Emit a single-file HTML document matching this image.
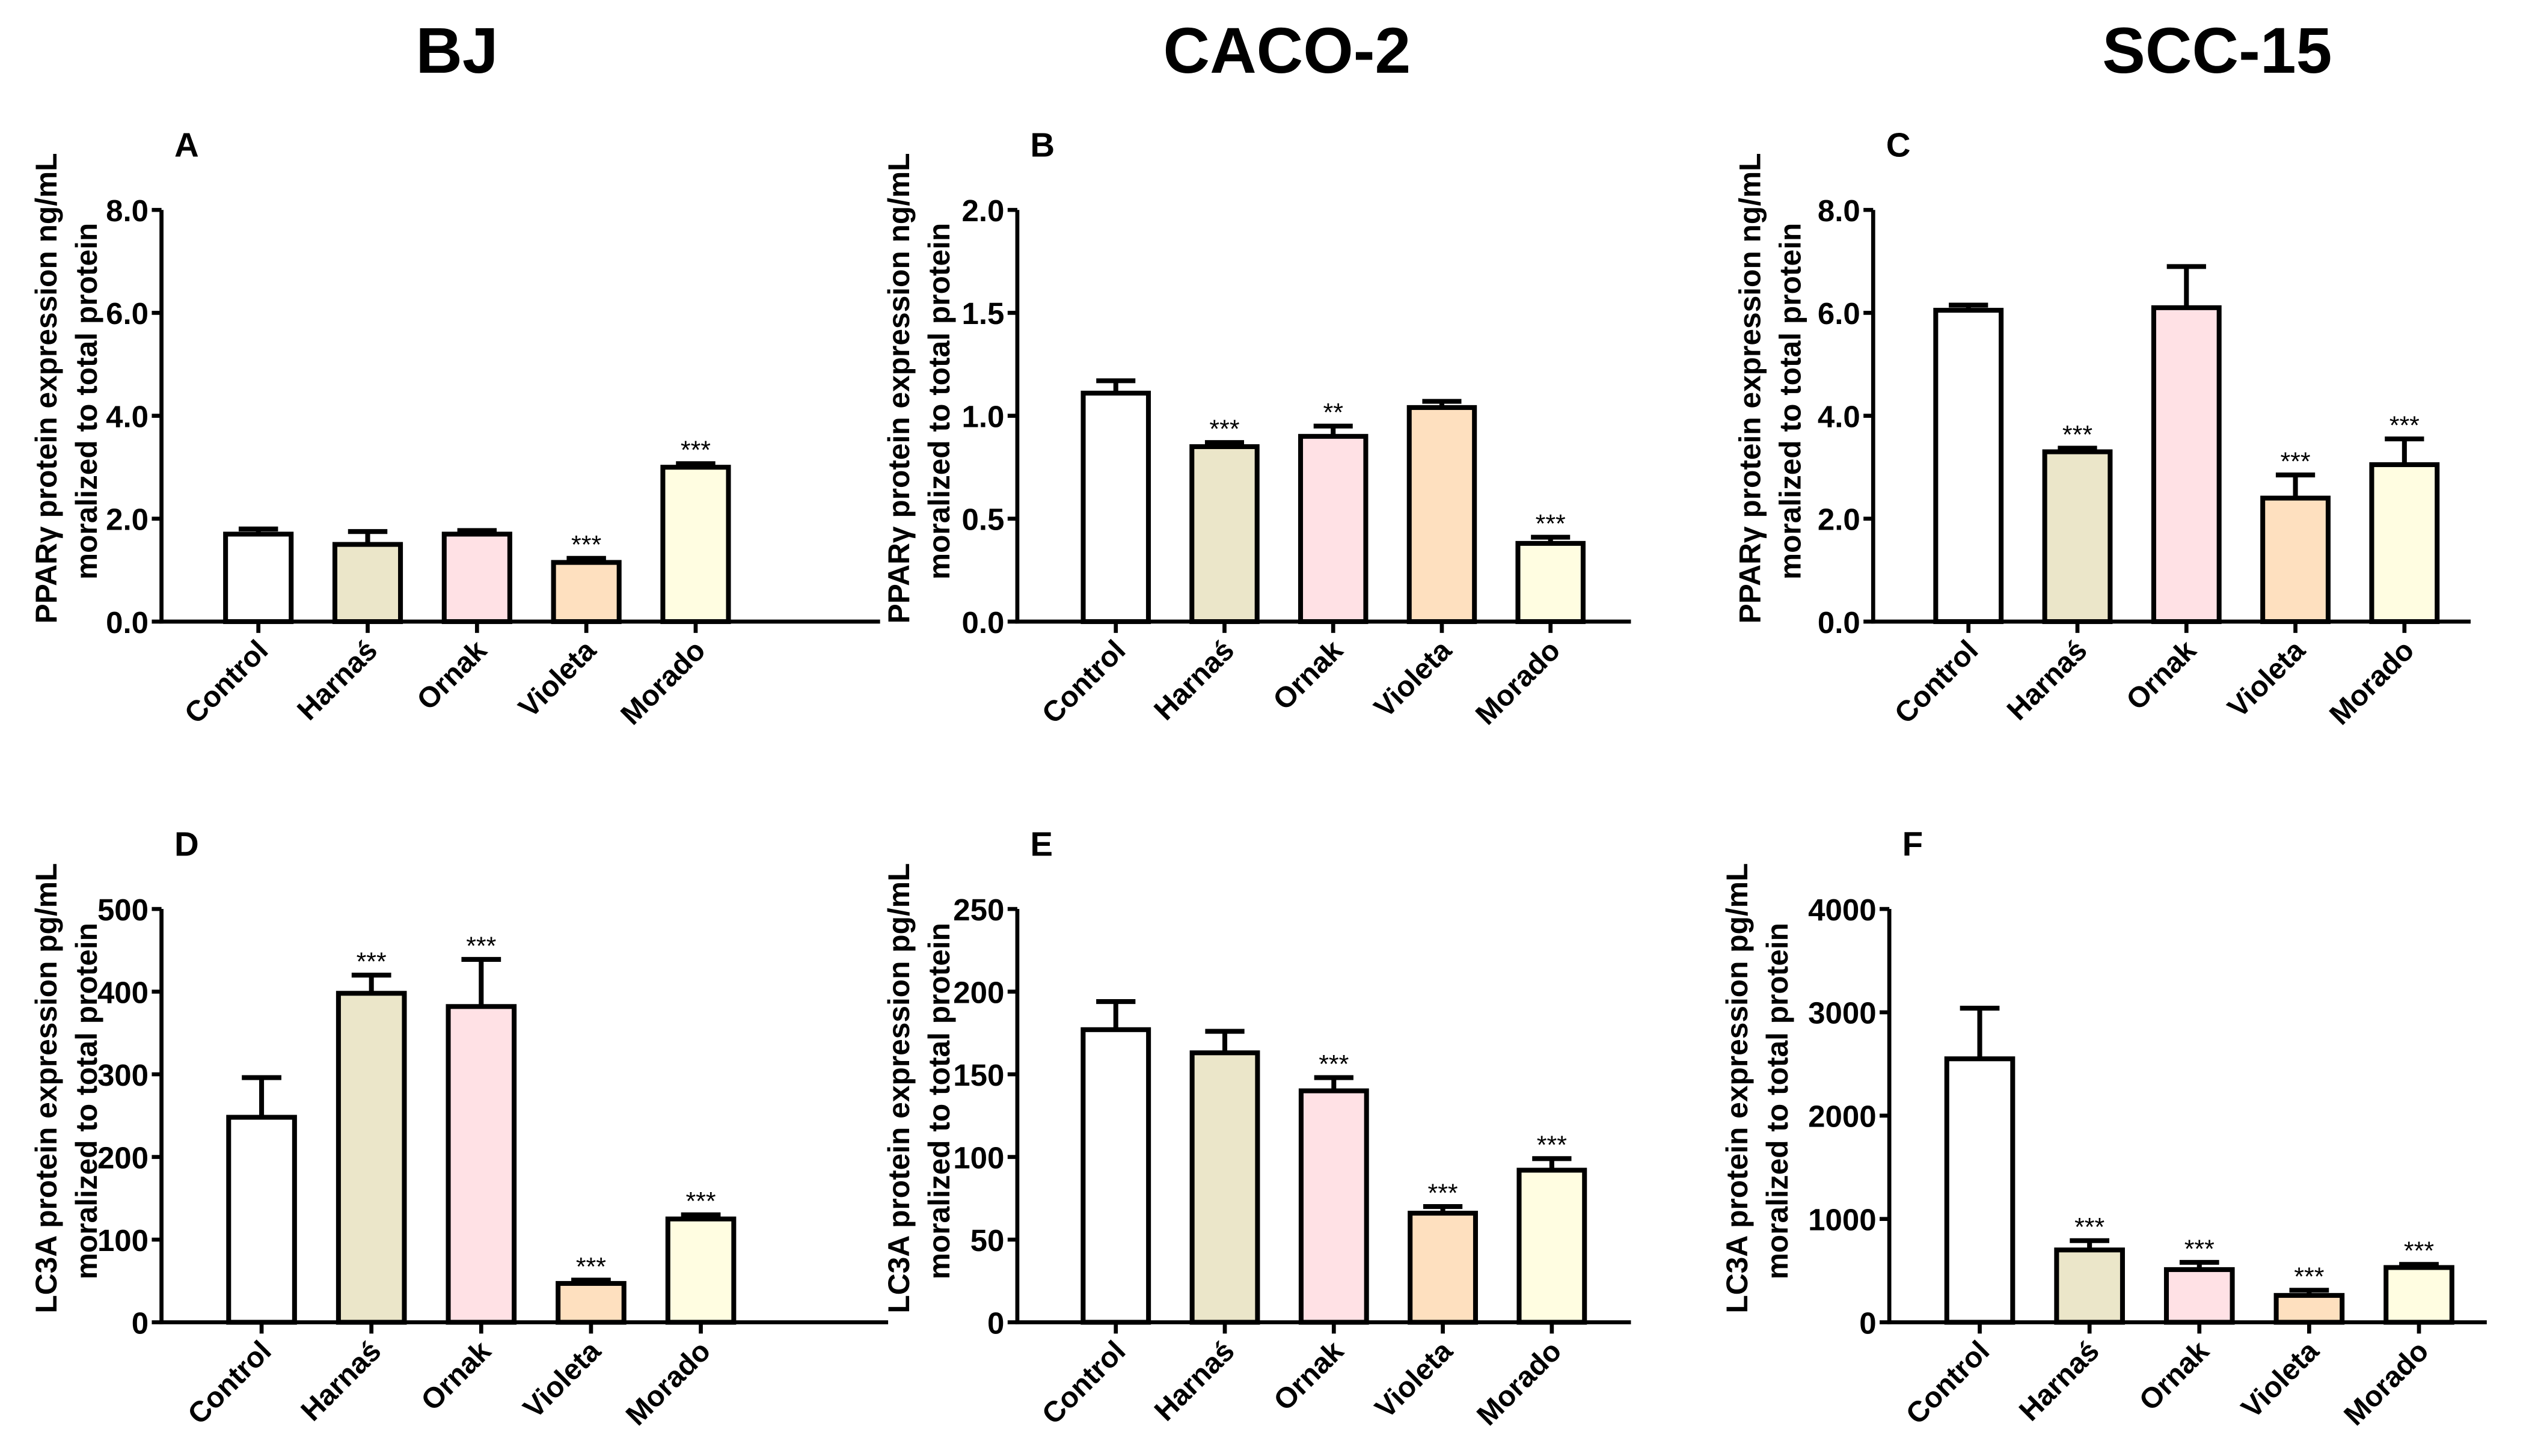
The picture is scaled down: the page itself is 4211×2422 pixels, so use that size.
<!DOCTYPE html>
<html><head><meta charset="utf-8"><style>
html,body{margin:0;padding:0;background:#fff}
svg{display:block}
text{font-family:"Liberation Sans",sans-serif;font-weight:bold;fill:#000}
</style></head><body>
<svg id="fig" width="4211" height="2422" viewBox="0 0 1568 901.8" xmlns="http://www.w3.org/2000/svg">
<text x="283" y="45" font-size="40" text-anchor="middle">BJ</text>
<text x="797" y="45" font-size="40" text-anchor="middle">CACO-2</text>
<text x="1373" y="45" font-size="40" text-anchor="middle">SCC-15</text>
</svg>
<script>
const categories = ["Control","Harnaś","Ornak","Violeta","Morado"];
const valuesA = [1.7,1.5,1.7,1.15,3.0];
const errorsA = [0.1,0.25,0.07,0.08,0.07];
const starsA = ["","","","***","***"];
const valuesB = [1.11,0.85,0.90,1.04,0.38];
const errorsB = [0.06,0.02,0.05,0.03,0.03];
const starsB = ["","***","**","","***"];
const valuesC = [6.05,3.3,6.1,2.4,3.05];
const errorsC = [0.1,0.07,0.8,0.45,0.5];
const starsC = ["","***","","***","***"];
const valuesD = [248,398,382,47,125];
const errorsD = [48,22,57,4,5];
const starsD = ["","***","***","***","***"];
const valuesE = [177,163,140,66,92];
const errorsE = [17,13,8,4,7];
const starsE = ["","","***","***","***"];
const valuesF = [2550,700,510,260,530];
const errorsF = [490,90,70,50,30];
const starsF = ["","***","***","***","***"];
const ticksPPAR = ["0.0","2.0","4.0","6.0","8.0"];
const ticksB = ["0.0","0.5","1.0","1.5","2.0"];
const ticksD = ["0","100","200","300","400","500"];
const ticksE = ["0","50","100","150","200","250"];
const ticksF = ["0","1000","2000","3000","4000"];
const fills = ["#ffffff","#ebe6c9","#ffe1e5","#fee0bf","#fffde1"];

const NS="http://www.w3.org/2000/svg";
const svg=document.getElementById('fig');
function mk(tag,attrs,parent){const e=document.createElementNS(NS,tag);for(const k in attrs)e.setAttribute(k,attrs[k]);(parent||svg).appendChild(e);return e;}

function panel(p){
  const g=mk('g',{});
  
  
  const ymax=parseFloat(p.ticks[p.ticks.length-1]);
  const y=v=>p.bottom-(v/ymax)*(p.bottom-p.top);
  const x=i=>p.c0+i*p.sp;
  const bw=p.sp*0.6;
  const L=mk('text',{x:p.ax+8,y:p.top-33,'font-size':21},g);L.textContent=p.letter;
  
  
  const cy=(p.top+p.bottom)/2-17;
  [p.t1,p.t2].forEach((t,k)=>{
    const e=mk('text',{x:0,y:0,'font-size':18.5,'text-anchor':'middle',transform:`translate(${p.tx+k*25},${cy+k*8}) rotate(-90)`},g);
    e.textContent=t;
    
    
  });
  categories.forEach((c,i)=>{
    const v=p.vals[i], e=p.errs[i], top=y(v), et=y(v+e);
    const ln=mk('line',{x1:x(i),x2:x(i),y1:top,y2:et,stroke:'#000','stroke-width':3},g);
    
    
    const cap=mk('line',{x1:x(i)-bw*0.3,x2:x(i)+bw*0.3,y1:et,y2:et,stroke:'#000','stroke-width':3},g);
    
    
    const r=mk('rect',{x:x(i)-bw/2,y:top,width:bw,height:p.bottom-top,fill:fills[i],stroke:'#000','stroke-width':3},g);
    
    
    if(p.stars[i]){
      const s=mk('text',{x:x(i),y:et-3,'font-size':16,'text-anchor':'middle'},g);
      s.style.fontWeight='normal';
      s.textContent=p.stars[i];
      
      
    }
    const tk=mk('line',{x1:x(i),x2:x(i),y1:p.bottom,y2:p.bottom+7,stroke:'#000','stroke-width':2.5},g);
    
    
    const lb=mk('text',{x:0,y:0,'font-size':18,'text-anchor':'end',transform:`translate(${x(i)+7},${p.bottom+19}) rotate(-45)`},g);
    lb.textContent=c;
    
    
  });
  const ya=mk('line',{x1:p.ax,x2:p.ax,y1:p.top,y2:p.bottom+1.2,stroke:'#000','stroke-width':2.5},g);
  
  
  const xa=mk('line',{x1:p.ax-1.2,x2:p.end,y1:p.bottom,y2:p.bottom,stroke:'#000','stroke-width':2.5},g);
  
  
  p.ticks.forEach(t=>{
    const yy=y(parseFloat(t));
    const tk=mk('line',{x1:p.ax-6,x2:p.ax,y1:yy,y2:yy,stroke:'#000','stroke-width':2.5},g);
    
    
    const tl=mk('text',{x:p.ax-8,y:yy+7,'font-size':19,'text-anchor':'end'},g);
    tl.textContent=t;
    
    
  });
}
const P1="PPARγ protein expression ng/mL", P2="moralized to total protein", L1="LC3A protein expression pg/mL";
panel({letter:'A',ax:100,tx:35,end:545,c0:160,sp:67.7,top:130,bottom:385,ticks:ticksPPAR,vals:valuesA,errs:errorsA,stars:starsA,t1:P1,t2:P2});
panel({letter:'B',ax:630,tx:563,end:1010,c0:691,sp:67.3,top:130,bottom:385,ticks:ticksB,vals:valuesB,errs:errorsB,stars:starsB,t1:P1,t2:P2});
panel({letter:'C',ax:1160,tx:1090,end:1530,c0:1219,sp:67.5,top:130,bottom:385,ticks:ticksPPAR,vals:valuesC,errs:errorsC,stars:starsC,t1:P1,t2:P2});
panel({letter:'D',ax:100,tx:35,end:550,c0:162,sp:68,top:563,bottom:819,ticks:ticksD,vals:valuesD,errs:errorsD,stars:starsD,t1:L1,t2:P2});
panel({letter:'E',ax:630,tx:563,end:1010,c0:691,sp:67.5,top:563,bottom:819,ticks:ticksE,vals:valuesE,errs:errorsE,stars:starsE,t1:L1,t2:P2});
panel({letter:'F',ax:1170,tx:1082,end:1540,c0:1226,sp:68,top:563,bottom:819,ticks:ticksF,vals:valuesF,errs:errorsF,stars:starsF,t1:L1,t2:P2});
</script>
</body></html>
